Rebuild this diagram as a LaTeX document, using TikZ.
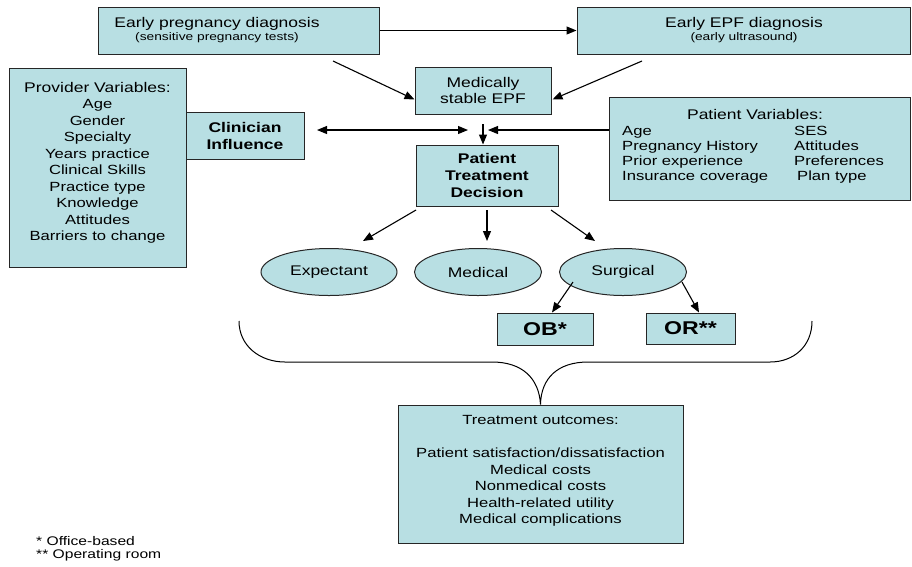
\documentclass[tikz,border=0pt]{standalone}
\usepackage{fontspec}
\setmainfont[FakeStretch=1.25]{Liberation Sans}
\usetikzlibrary{arrows.meta,calc,shapes.geometric}
\definecolor{boxfill}{RGB}{184,223,227}
\newcommand{\fsz}[2]{\fontsize{#1}{#2}\selectfont}
\tikzset{
  box/.style={draw=black!85, line width=1pt, fill=boxfill, inner sep=0pt},
  oval/.style={ellipse, draw=black!85, line width=1pt, fill=boxfill, inner sep=0pt},
  txt/.style={inner sep=0pt, align=center},
  arr/.style={-{Triangle[length=10pt,width=8pt]}, line width=1.1pt},
  darr/.style={{Triangle[length=10pt,width=8pt]}-{Triangle[length=10pt,width=8pt]}, line width=1.1pt},
  brace/.style={line width=1pt}
}
\begin{document}
\begin{tikzpicture}[x=1pt,y=-1pt]
\useasboundingbox (0,0) rectangle (912,566);
% boxes
\node[box, minimum width=281pt, minimum height=47pt] (epd) at (238.5,30.5) {};
\node[txt, anchor=base, font=\fsz{14}{16}] (epdt) at (217,27) {Early pregnancy diagnosis};
\node[txt, anchor=base, font=\fsz{11}{13}] (epds) at (217,40) {(sensitive pregnancy tests)};

\node[box, minimum width=333pt, minimum height=47pt] (eed) at (743.5,30.5) {};
\node[txt, anchor=base, font=\fsz{14}{16}] (eedt) at (744,27) {Early EPF diagnosis};
\node[txt, anchor=base, font=\fsz{11}{13}] (eeds) at (744,40.5) {(early ultrasound)};

\node[box, minimum width=136pt, minimum height=47pt, font=\fsz{14}{16.5}, align=center] (mse) at (483,90.5) {Medically\\stable EPF};

\node[box, minimum width=177pt, minimum height=199pt] (prov) at (97.5,167.5) {};
\node[txt, font=\fsz{13.3}{16.5}] (provt) at (97.5,163) {{\fsz{14}{16.5}Provider Variables:}\\Age\\Gender\\Specialty\\Years practice\\Clinical Skills\\Practice type\\Knowledge\\Attitudes\\Barriers to change};

\node[box, minimum width=118pt, minimum height=47pt, font=\bfseries\fsz{14}{17}, align=center] (ci) at (245,135.5) {Clinician\\Influence};

\node[box, minimum width=301pt, minimum height=103pt] (patv) at (759.5,148.5) {};
\node[txt, anchor=base, font=\fsz{14}{16}] (patvt) at (755,119) {Patient Variables:};
\node[txt, anchor=base west, font=\fsz{13.3}{16}] (pv1) at (622,135) {Age};
\node[txt, anchor=base west, font=\fsz{13.3}{16}] (pv2) at (622,150) {Pregnancy History};
\node[txt, anchor=base west, font=\fsz{13.3}{16}] (pv3) at (622,165) {Prior experience};
\node[txt, anchor=base west, font=\fsz{13.3}{16}] (pv4) at (622,180) {Insurance coverage};
\node[txt, anchor=base west, font=\fsz{13.3}{16}] (pv5) at (794,135) {SES};
\node[txt, anchor=base west, font=\fsz{13.3}{16}] (pv6) at (794,150) {Attitudes};
\node[txt, anchor=base west, font=\fsz{13.3}{16}] (pv7) at (794,165) {Preferences};
\node[txt, anchor=base west, font=\fsz{13.3}{16}] (pv8) at (797,180) {Plan type};

\node[box, minimum width=142pt, minimum height=61pt, font=\bfseries\fsz{14}{17}, align=center] (ptd) at (487,175.5) {Patient\\Treatment\\Decision};

\node[oval, minimum width=136pt, minimum height=47pt, font=\fsz{14}{16}] (exp) at (329,272) {Expectant};
\node[oval, minimum width=127pt, minimum height=47pt, font=\fsz{14}{16}] (med) at (478,272) {Medical};
\node[oval, minimum width=127pt, minimum height=47pt, font=\fsz{14}{16}] (sur) at (623,272) {Surgical};

\node[box, minimum width=96pt, minimum height=32pt, font=\bfseries\fsz{18.5}{20}] (ob) at (545,329) {OB*};
\node[box, minimum width=89pt, minimum height=31pt, font=\bfseries\fsz{18.5}{20}] (or) at (690.5,328.5) {OR**};

\node[box, minimum width=285pt, minimum height=138pt] (to) at (540.5,474) {};
\node[txt, font=\fsz{13.3}{16.5}] (tot) at (540.5,471) {Treatment outcomes:\\[16.5pt]Patient satisfaction/dissatisfaction\\Medical costs\\Nonmedical costs\\Health-related utility\\Medical complications};

\node[txt, anchor=base west, font=\fsz{12.5}{13}, align=left] (fn1) at (36,545) {* Office-based};
\node[txt, anchor=base west, font=\fsz{12.5}{13}, align=left] (fn2) at (36,558.5) {** Operating room};

% connectors
\draw[arr] (epd.east) -- (eed.west);
\coordinate (a2s) at (333,61);
\draw[arr] (a2s) -- ($(mse.south west)+(0,-15)$);
\coordinate (a3s) at (642,61);
\draw[arr] (a3s) -- ($(mse.south east)+(1,-15)$);
\coordinate (dl) at (317,130);
\coordinate (dr) at (468,130);
\draw[darr] (dl) -- (dr);
\coordinate (ds) at (483,124);
\draw[arr] (ds) -- (ptd.north -| ds);
\coordinate (pe) at (488,130);
\draw[arr] (patv.west |- pe) -- (pe);

\coordinate (b1s) at (416,210); \coordinate (b1e) at (363,241);
\coordinate (b2s) at (487,210); \coordinate (b2e) at (487,241);
\coordinate (b3s) at (551,210); \coordinate (b3e) at (595,241);
\draw[arr] (b1s) -- (b1e);
\draw[arr] (b2s) -- (b2e);
\draw[arr] (b3s) -- (b3e);

\coordinate (c1s) at (573,282);
\coordinate (c2s) at (682,282);
\draw[arr] (c1s) -- (ob.north -| 552,0);
\draw[arr] (c2s) -- (or.north -| 699,0);

% brace
\coordinate (bl) at (239,321);
\coordinate (br) at (812,321);
\draw[brace] (bl) .. controls (239,346) and (260,362) .. (285,362) -- (492,362)
  .. controls (522,362) and (539,378) .. (to.north)
  .. controls (541,378) and (558,362) .. (588,362) -- (770,362)
  .. controls (794,362) and (812,346) .. (br);
\end{tikzpicture}
\end{document}
